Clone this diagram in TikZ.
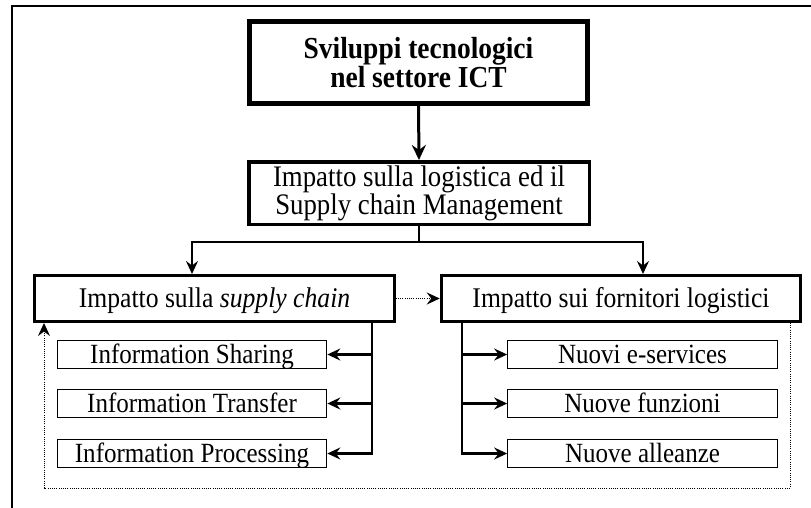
\documentclass[tikz,border=0pt]{standalone}
\usepackage{fontspec}
\setmainfont[FakeStretch=0.9]{Liberation Serif}
\usetikzlibrary{arrows.meta}
\begin{document}
\begin{tikzpicture}[x=1pt,y=-1pt,
  topbox/.style={draw, line width=5pt, minimum width=338pt, minimum height=82pt, inner sep=0pt, align=center, font=\fontsize{30.5}{26}\selectfont\bfseries},
  midbox/.style={draw, line width=3.5pt, minimum width=340.5pt, minimum height=62.5pt, inner sep=0pt, align=center, font=\fontsize{29.8}{26.5}\selectfont},
  catbox/.style={draw, line width=3pt, minimum width=359.5pt, minimum height=46pt, inner sep=0pt, text height=18pt, text depth=0pt, font=\fontsize{28.5}{28}\selectfont},
  itembox/.style={draw, line width=1.2pt, minimum width=269.5pt, minimum height=27.8pt, inner sep=0pt, text height=18pt, text depth=0pt, font=\fontsize{27.8}{28}\selectfont},
  tip/.style={-{Stealth[length=13pt,width=12pt,inset=4.5pt]}},
  conn/.style={line width=2.5pt},
  arr/.style={conn, tip},
  bigarr/.style={line width=3pt, -{Stealth[length=15pt,width=14pt,inset=5pt]}},
  dotline/.style={line width=0.9pt, dash pattern=on 1pt off 1.2pt},
  dotarr/.style={dotline, tip}
]
\useasboundingbox (0,0) rectangle (811,507);
% outer frame
\coordinate (fbl) at (12,508);
\coordinate (ftl) at (12,6);
\coordinate (ftr) at (812,6);
\draw[line width=2pt] (fbl) -- (ftl) -- (ftr);

\node[topbox] (ict) at (418.5,62.5) {Sviluppi tecnologici\\nel settore ICT};
\node[midbox] (scm) at (419,193) {Impatto sulla logistica ed il\\Supply chain Management};
\node[catbox] (sc) at (214.5,298.5) {Impatto sulla \textit{supply chain}};
\node[catbox] (fl) at (621,298.5) {Impatto sui fornitori logistici};

\node[itembox] (s1) at (192,354.5) {Information Sharing};
\node[itembox] (s2) at (192,403.5) {Information Transfer};
\node[itembox] (s3) at (192,453.5) {Information Processing};
\node[itembox] (n1) at (642.5,354.5) {Nuovi e-services};
\node[itembox] (n2) at (642.5,403.5) {Nuove funzioni};
\node[itembox] (n3) at (642.5,453.5) {Nuove alleanze};

% top arrow
\draw[bigarr] (ict.south) -- (scm.north);
% split
\coordinate (jl) at (192,242);
\coordinate (jr) at (643,242);
\draw[conn] (scm.south) -- (scm.south |- jl);
\draw[arr] (scm.south |- jl) -| (jl |- sc.north);
\draw[arr] (scm.south |- jr) -| (jr |- fl.north);

% left bracket
\coordinate (lv) at (372,0);
\draw[arr] (sc.south -| lv) |- (s3.east);
\draw[arr] (lv |- s1.east) -- (s1.east);
\draw[arr] (lv |- s2.east) -- (s2.east);
% right bracket
\coordinate (rv) at (462,0);
\draw[arr] (fl.south -| rv) |- (n3.west);
\draw[arr] (rv |- n1.west) -- (n1.west);
\draw[arr] (rv |- n2.west) -- (n2.west);

% dotted links
\draw[dotarr] (sc.east) -- (fl.west);
\coordinate (lr) at (790,488);
\coordinate (ll) at (44,488);
\draw[dotarr] (fl.south -| lr) |- (ll) -- (ll |- sc.south);
\end{tikzpicture}
\end{document}
